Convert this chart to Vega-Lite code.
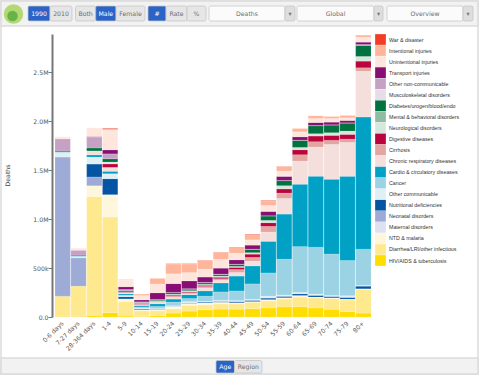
{"$schema":"https://vega.github.io/schema/vega-lite/v6.json","width":480,"height":376,"padding":0,"autosize":"none","background":"#ffffff","config":{"view":{"stroke":null},"font":"DejaVu Sans"},
"datasets":{
"panels":[{"name":"window","top":0,"bottom":3},{"name":"toolbar","top":0,"bottom":1},{"name":"footer","top":2,"bottom":3}],
"controls":[{"label":"1990","from":0,"to":1,"mid":0.5,"state":"on"},{"label":"2010","from":1,"to":2,"mid":1.5,"state":"off"},{"label":"Both","from":3,"to":4,"mid":3.5,"state":"off"},{"label":"Male","from":4,"to":5,"mid":4.5,"state":"on"},{"label":"Female","from":5,"to":6,"mid":5.5,"state":"off"},{"label":"#","from":7,"to":8,"mid":7.5,"state":"on"},{"label":"Rate","from":8,"to":9,"mid":8.5,"state":"off"},{"label":"%","from":9,"to":10,"mid":9.5,"state":"off"},{"label":"Deaths","from":11,"to":12,"mid":11.5,"state":"field"},{"label":"▾","from":12,"to":13,"mid":12.5,"state":"arrow"},{"label":"Global","from":14,"to":15,"mid":14.5,"state":"field"},{"label":"▾","from":15,"to":16,"mid":15.5,"state":"arrow"},{"label":"Overview","from":17,"to":18,"mid":17.5,"state":"field"},{"label":"▾","from":18,"to":19,"mid":18.5,"state":"arrow"}],
"footer":[{"label":"Age","from":0,"to":1,"mid":0.5,"state":"on"},{"label":"Region","from":1,"to":2,"mid":1.5,"state":"off"}],
"causes":[{"rank":1,"cause":"HIV/AIDS & tuberculosis"},{"rank":2,"cause":"Diarrhea/LRI/other infectious"},{"rank":3,"cause":"NTD & malaria"},{"rank":4,"cause":"Maternal disorders"},{"rank":5,"cause":"Neonatal disorders"},{"rank":6,"cause":"Nutritional deficiencies"},{"rank":7,"cause":"Other communicable"},{"rank":8,"cause":"Cancer"},{"rank":9,"cause":"Cardio & circulatory diseases"},{"rank":10,"cause":"Chronic respiratory diseases"},{"rank":11,"cause":"Cirrhosis"},{"rank":12,"cause":"Digestive diseases"},{"rank":13,"cause":"Neurological disorders"},{"rank":14,"cause":"Mental & behavioral disorders"},{"rank":15,"cause":"Diabetes/urogen/blood/endo"},{"rank":16,"cause":"Musculoskeletal disorders"},{"rank":17,"cause":"Other non-communicable"},{"rank":18,"cause":"Transport injuries"},{"rank":19,"cause":"Unintentional injuries"},{"rank":20,"cause":"Intentional injuries"},{"rank":21,"cause":"War & disaster"}],
"wide":[
{"age":"0-6 days","r2":213,"r5":1420,"r7":50,"r9":12,"r17":125,"r19":20},
{"age":"7-27 days","r2":315,"r5":290,"r7":15,"r9":12,"r17":50,"r19":20},
{"age":"28-364 days","r1":17,"r2":1213,"r3":110,"r5":90,"r6":132,"r7":72,"r9":22,"r10":40,"r15":30,"r17":112,"r18":5,"r19":88},
{"age":"1-4","r1":44,"r2":976,"r3":229,"r6":163,"r7":51,"r9":25,"r10":40,"r12":35,"r13":20,"r15":33,"r17":50,"r18":41,"r19":203,"r20":8,"r21":8},
{"age":"5-9","r1":10,"r2":145,"r3":30,"r6":22,"r7":15,"r9":15,"r10":10,"r12":5,"r14":5,"r15":12,"r17":12,"r18":28,"r19":70,"r20":4},
{"age":"10-14","r2":65,"r3":10,"r6":8,"r7":8,"r8":12,"r9":15,"r10":8,"r11":3,"r12":5,"r13":3,"r14":2,"r15":8,"r17":8,"r18":20,"r19":44,"r20":15},
{"age":"15-19","r1":15,"r2":50,"r3":8,"r6":5,"r7":8,"r8":22,"r9":27,"r10":15,"r11":3,"r12":6,"r13":5,"r14":3,"r15":8,"r17":4,"r18":68,"r19":90,"r20":57},
{"age":"20-24","r1":40,"r2":44,"r3":20,"r6":3,"r7":8,"r8":38,"r9":30,"r10":20,"r11":10,"r12":10,"r13":10,"r15":15,"r17":3,"r18":90,"r19":100,"r20":100,"r21":3},
{"age":"25-29","r1":60,"r2":60,"r3":20,"r6":5,"r7":12,"r8":32,"r9":40,"r10":8,"r11":12,"r12":10,"r13":10,"r15":15,"r17":5,"r18":80,"r19":85,"r20":88,"r21":3},
{"age":"30-34","r1":74,"r2":50,"r3":20,"r6":8,"r7":8,"r8":53,"r9":54,"r10":30,"r11":15,"r12":12,"r13":10,"r15":15,"r17":5,"r18":54,"r19":81,"r20":88,"r21":3},
{"age":"35-39","r1":81,"r2":52,"r3":18,"r6":8,"r7":12,"r8":85,"r9":92,"r10":28,"r11":15,"r12":15,"r13":12,"r15":15,"r17":5,"r18":61,"r19":90,"r20":70,"r21":3},
{"age":"40-44","r1":80,"r2":54,"r3":12,"r6":12,"r7":10,"r8":98,"r9":152,"r10":37,"r11":30,"r12":22,"r13":10,"r15":20,"r17":3,"r18":44,"r19":68,"r20":60,"r21":3},
{"age":"45-49","r1":85,"r2":65,"r3":8,"r6":12,"r7":12,"r8":156,"r9":183,"r10":51,"r11":37,"r12":33,"r13":15,"r15":33,"r17":3,"r18":41,"r19":54,"r20":54,"r21":5},
{"age":"50-54","r1":92,"r2":71,"r3":15,"r6":15,"r7":20,"r8":237,"r9":323,"r10":95,"r11":58,"r12":37,"r13":24,"r15":44,"r17":3,"r18":44,"r19":61,"r20":46,"r21":5},
{"age":"55-59","r1":102,"r2":81,"r3":14,"r6":14,"r7":14,"r8":366,"r9":460,"r10":160,"r11":55,"r12":41,"r13":34,"r15":51,"r17":3,"r18":41,"r19":54,"r20":40,"r21":5},
{"age":"60-64","r1":105,"r2":98,"r3":17,"r6":17,"r7":14,"r8":468,"r9":637,"r10":237,"r11":64,"r12":51,"r13":24,"r15":71,"r17":3,"r18":34,"r19":51,"r20":34},
{"age":"65-69","r1":92,"r2":102,"r3":10,"r6":17,"r7":14,"r8":478,"r9":725,"r10":298,"r11":54,"r12":58,"r13":24,"r15":81,"r17":3,"r18":30,"r19":41,"r20":27},
{"age":"70-74","r1":78,"r2":108,"r3":10,"r6":14,"r7":10,"r8":424,"r9":763,"r10":356,"r11":41,"r12":51,"r13":27,"r15":78,"r17":3,"r18":27,"r19":37,"r20":20},
{"age":"75-79","r1":54,"r2":119,"r3":10,"r6":17,"r7":17,"r8":359,"r9":861,"r10":346,"r11":34,"r12":48,"r13":34,"r15":81,"r17":3,"r18":24,"r19":27,"r20":24},
{"age":"80+","r1":40,"r2":240,"r3":8,"r6":27,"r7":8,"r8":369,"r9":1350,"r10":469,"r11":34,"r12":68,"r13":48,"r15":112,"r17":10,"r18":24,"r19":51,"r20":20}
]},
"resolve":{"scale":{"x":"independent","y":"independent","fill":"independent","color":"independent"},"axis":{"x":"independent","y":"independent"}},
"layer":[
{"data":{"name":"panels"},"mark":{"type":"rect","strokeWidth":1.5,"stroke":"#dcdcdc"},"encoding":{
"x":{"datum":0,"type":"quantitative","scale":{"domain":[0,1],"range":[1,478]},"axis":null},"x2":{"datum":1},
"y":{"field":"top","type":"quantitative","scale":{"domain":[0,1,2,3],"range":[1,26,358,374]},"axis":null},"y2":{"field":"bottom"},
"fill":{"field":"name","type":"nominal","legend":null,"scale":{"domain":["window","toolbar","footer"],"range":["#ffffff","#f2f2f2","#f2f2f2"]}}}},
{"data":{"name":"controls"},"layer":[
{"mark":{"type":"rect","stroke":"#c4c4c4","strokeWidth":0.75,"cornerRadius":1.5},"encoding":{
"x":{"field":"from","type":"quantitative","scale":{"domain":[0,1,2,3,4,5,6,7,8,9,10,11,12,13,14,15,16,17,18,19],"range":[28,50,72,75.5,95.7,116,145,148,166,187,206,209,285,295,297,374,383,387,463,473]},"axis":null},"x2":{"field":"to"},
"y":{"datum":0,"type":"quantitative","scale":{"domain":[0,1],"range":[6,21]},"axis":null},"y2":{"datum":1},
"fill":{"field":"state","type":"nominal","legend":null,"scale":{"domain":["on","off","field","arrow"],"range":["#2b63c6","#e6e6e6","#fbfbfb","#dedede"]}}}},
{"mark":{"type":"text","fontSize":6.2,"font":"DejaVu Sans"},"encoding":{
"x":{"field":"mid","type":"quantitative","scale":{"domain":[0,1,2,3,4,5,6,7,8,9,10,11,12,13,14,15,16,17,18,19],"range":[28,50,72,75.5,95.7,116,145,148,166,187,206,209,285,295,297,374,383,387,463,473]},"axis":null},
"y":{"datum":0.5,"type":"quantitative","scale":{"domain":[0,1],"range":[6,21]},"axis":null},
"text":{"field":"label","type":"nominal"},
"color":{"field":"state","type":"nominal","legend":null,"scale":{"domain":["on","off","field","arrow"],"range":["#ffffff","#6e6e6e","#6e6e6e","#777777"]}}}}
],"resolve":{"scale":{"x":"shared","y":"shared"}}},
{"data":{"name":"footer"},"layer":[
{"mark":{"type":"rect","stroke":"#c4c4c4","strokeWidth":0.75,"cornerRadius":1.5},"encoding":{
"x":{"field":"from","type":"quantitative","scale":{"domain":[0,1,2],"range":[216,234.5,262]},"axis":null},"x2":{"field":"to"},
"y":{"datum":0,"type":"quantitative","scale":{"domain":[0,1],"range":[360.5,373]},"axis":null},"y2":{"datum":1},
"fill":{"field":"state","type":"nominal","legend":null,"scale":{"domain":["on","off"],"range":["#2b63c6","#e6e6e6"]}}}},
{"mark":{"type":"text","fontSize":6.2,"font":"DejaVu Sans"},"encoding":{
"x":{"field":"mid","type":"quantitative","scale":{"domain":[0,1,2],"range":[216,234.5,262]},"axis":null},
"y":{"datum":0.5,"type":"quantitative","scale":{"domain":[0,1],"range":[360.5,373]},"axis":null},
"text":{"field":"label","type":"nominal"},
"color":{"field":"state","type":"nominal","legend":null,"scale":{"domain":["on","off"],"range":["#ffffff","#6e6e6e"]}}}}
]},
{"data":{"values":[{"part":"disc"},{"part":"leaf"}]},"mark":{"type":"point","filled":true,"opacity":1,"shape":"circle"},"encoding":{
"x":{"field":"part","type":"nominal","scale":{"domain":["leaf","disc"],"range":[12,14]},"axis":null},
"y":{"field":"part","type":"nominal","scale":{"domain":["disc","leaf"],"range":[13,17]},"axis":null},
"size":{"field":"part","type":"nominal","legend":null,"scale":{"domain":["leaf","disc"],"range":[110,380]}},
"color":{"field":"part","type":"nominal","legend":null,"scale":{"domain":["disc","leaf"],"range":["#b4d873","#66b348"]}}}},
{"data":{"name":"wide"},
"transform":[{"fold":["r1","r2","r3","r4","r5","r6","r7","r8","r9","r10","r11","r12","r13","r14","r15","r16","r17","r18","r19","r20","r21"],"as":["key","thousands"]},{"filter":"isValid(datum.thousands)"},
{"lookup":"key","from":{"data":{"values":[{"key":"r1","rank":1},{"key":"r2","rank":2},{"key":"r3","rank":3},{"key":"r4","rank":4},{"key":"r5","rank":5},{"key":"r6","rank":6},{"key":"r7","rank":7},{"key":"r8","rank":8},{"key":"r9","rank":9},{"key":"r10","rank":10},{"key":"r11","rank":11},{"key":"r12","rank":12},{"key":"r13","rank":13},{"key":"r14","rank":14},{"key":"r15","rank":15},{"key":"r16","rank":16},{"key":"r17","rank":17},{"key":"r18","rank":18},{"key":"r19","rank":19},{"key":"r20","rank":20},{"key":"r21","rank":21}]},"key":"key","fields":["rank"]}},
{"lookup":"rank","from":{"data":{"name":"causes"},"key":"rank","fields":["cause"]}}],
"mark":{"type":"bar","stroke":"#ffffff","strokeWidth":0.4,"strokeOpacity":0.35},
"encoding":{
"x":{"field":"age","type":"nominal","sort":null,"scale":{"type":"band","domain":["0-6 days","7-27 days","28-364 days","1-4","5-9","10-14","15-19","20-24","25-29","30-34","35-39","40-44","45-49","50-54","55-59","60-64","65-69","70-74","75-79","80+"],"range":[55,371],"paddingInner":0.03,"paddingOuter":0},"axis":{"zindex":1,"title":null,"orient":"bottom","offset":-59,"domain":false,"ticks":false,"labelAngle":-45,"labelAlign":"right","labelBaseline":"middle","labelPadding":5,"labelFont":"DejaVu Sans","labelFontSize":6.2,"labelColor":"#555555","labelOverlap":false}},
"y":{"aggregate":"sum","field":"thousands","type":"quantitative","stack":"zero","scale":{"domain":[0,2890],"range":[317,34],"nice":false},"axis":{"zindex":1,"title":"Deaths","orient":"left","offset":-52,"grid":false,"values":[0,500,1000,1500,2000,2500],"labelExpr":"datum.value==0?'0.0':datum.value<1000?'500k':format(datum.value/1000,'.1f')+'M'","domainColor":"#777777","domainWidth":2,"tickColor":"#777777","tickSize":4,"tickWidth":1,"labelFont":"DejaVu Sans","labelFontSize":6.2,"labelColor":"#555555","labelPadding":0,"titleFont":"DejaVu Sans","titleFontSize":6.2,"titleFontWeight":"normal","titleColor":"#444444","titleX":-42,"titleY":175}},
"order":{"field":"rank","type":"quantitative"},
"color":{"field":"cause","type":"nominal","scale":{"domain":["War & disaster","Intentional injuries","Unintentional injuries","Transport injuries","Other non-communicable","Musculoskeletal disorders","Diabetes/urogen/blood/endo","Mental & behavioral disorders","Neurological disorders","Digestive diseases","Cirrhosis","Chronic respiratory diseases","Cardio & circulatory diseases","Cancer","Other communicable","Nutritional deficiencies","Neonatal disorders","Maternal disorders","NTD & malaria","Diarrhea/LRI/other infectious","HIV/AIDS & tuberculosis"],"range":["#f33b25","#ffb59a","#ffe6dc","#880e75","#c5a1c3","#e8dce8","#00723f","#8fbda2","#d6e7de","#bb033c","#e2a59f","#f5dfdc","#01a1c6","#9bd3e5","#dff0f4","#0554a4","#9dabd6","#dde1f0","#fff7dc","#ffe98f","#ffdd00"]},"legend":{"title":null,"orient":"none","legendX":375,"legendY":34,"symbolType":"square","symbolSize":115,"symbolStrokeWidth":0,"symbolOpacity":1,"rowPadding":0.05,"labelFont":"Liberation Sans","labelFontSize":5.3,"labelColor":"#333333","labelOffset":3,"labelLimit":100,"padding":0}}
}}
]}
